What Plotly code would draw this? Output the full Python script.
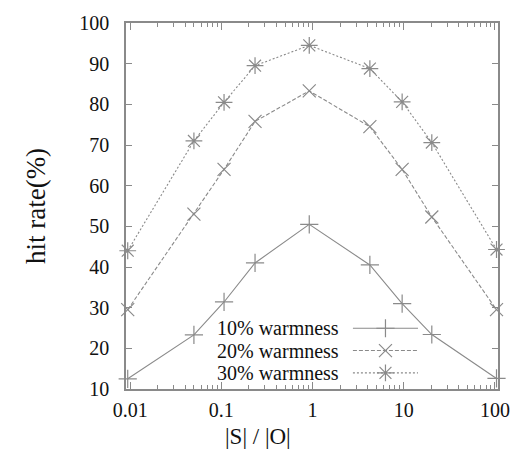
import math
import plotly.graph_objects as go

# ---- data ----
ratio = [0.0094, 0.05, 0.107, 0.234, 0.92, 4.25, 9.6, 20.3, 104]
warm10 = [12.5, 23.3, 31.4, 41.0, 50.5, 40.5, 31.0, 23.4, 12.6]
warm20 = [29.5, 53.0, 64.0, 75.8, 83.3, 74.5, 64.0, 52.3, 29.5]
warm30 = [44.0, 71.0, 80.5, 89.5, 94.5, 88.8, 80.6, 70.6, 44.3]
series_names = ["10% warmness", "20% warmness", "30% warmness"]
x_ticks = [0.01, 0.1, 1, 10, 100]
x_tick_text = ["0.01", "0.1", "1", "10", "100"]
y_ticks = [10, 20, 30, 40, 50, 60, 70, 80, 90, 100]

GRAY = "#8a8a8a"
FONT = "Liberation Serif"
styles = [
    dict(dash="solid", symbol="cross-thin-open", size=13),
    dict(dash="4px,2px", symbol="x-thin-open", size=13),
    dict(dash="2px,2px", symbol="asterisk-open", size=14),
]
series = [warm10, warm20, warm30]

fig = go.Figure()
for name, ys, st in zip(series_names, series, styles):
    fig.add_trace(go.Scatter(
        x=ratio, y=ys, name=name, mode="lines+markers",
        line=dict(color=GRAY, width=1.1, dash=st["dash"]),
        marker=dict(symbol=st["symbol"], size=st["size"], color=GRAY,
                    line=dict(color=GRAY, width=1.2)),
        showlegend=False, cliponaxis=False,
    ))

# custom legend (text left of sample, as in the reference); positions in paper fractions
legend_y = [0.166, 0.105, 0.044]
legend_text_x = 0.577
legend_line_x = [0.610, 0.785]
for name, ly, st in zip(series_names, legend_y, styles):
    fig.add_annotation(text=name, xref="paper", yref="paper", x=legend_text_x, y=ly,
                       xanchor="right", yanchor="middle", showarrow=False,
                       font=dict(family=FONT, size=20, color="#111"))
    fig.add_trace(go.Scatter(
        x=legend_line_x, y=[ly, ly], xaxis="x2", yaxis="y2", mode="lines",
        line=dict(color=GRAY, width=1.1, dash=st["dash"]), showlegend=False,
        hoverinfo="skip"))
    fig.add_trace(go.Scatter(
        x=[sum(legend_line_x) / 2], y=[ly], xaxis="x2", yaxis="y2", mode="markers",
        marker=dict(symbol=st["symbol"], size=st["size"], color=GRAY,
                    line=dict(color=GRAY, width=1.2)), showlegend=False,
        hoverinfo="skip"))

# x-axis title (placed left of centre as in the reference)
fig.add_annotation(text="|S| / |O|", xref="paper", yref="paper", x=0.355, y=-0.129,
                   xanchor="center", yanchor="middle", showarrow=False,
                   font=dict(family=FONT, size=23, color="#111"))

minor_vals = [m * 10 ** e for e in range(-3, 3) for m in range(2, 10)]

fig.update_layout(
    width=523, height=460,
    margin=dict(l=126, r=25, t=18, b=71),
    paper_bgcolor="white", plot_bgcolor="rgba(0,0,0,0)",
    font=dict(family=FONT, size=20, color="#111"),
    xaxis=dict(
        type="log", range=[math.log10(0.009), math.log10(108)],
        tickvals=x_ticks, ticktext=x_tick_text,
        ticks="inside", ticklen=7, tickwidth=1.2, tickcolor=GRAY,
        showline=True, linecolor=GRAY, linewidth=1.6, mirror="ticks",
        showgrid=False, zeroline=False, ticklabelstandoff=2,
        minor=dict(tickvals=minor_vals, ticks="inside", ticklen=4,
                   tickwidth=1.2, tickcolor=GRAY, showgrid=False),
    ),
    yaxis=dict(
        range=[10, 100], tickvals=y_ticks,
        ticks="inside", ticklen=6, tickwidth=1.2, tickcolor=GRAY,
        showline=True, linecolor=GRAY, linewidth=1.6, mirror="ticks",
        showgrid=False, zeroline=False, ticklabelstandoff=11,
        title=dict(text="hit rate(%)", font=dict(size=27), standoff=26),
    ),
    xaxis2=dict(domain=[0, 1], range=[0, 1], anchor="y2", overlaying="x",
                visible=False, fixedrange=True),
    yaxis2=dict(domain=[0, 1], range=[0, 1], anchor="x2", overlaying="y",
                visible=False, fixedrange=True),
)

fig.write_html(
    "out.html",
    config={"displayModeBar": False},
    post_script="document.body.style.margin='0';document.body.style.overflow='hidden';",
)
